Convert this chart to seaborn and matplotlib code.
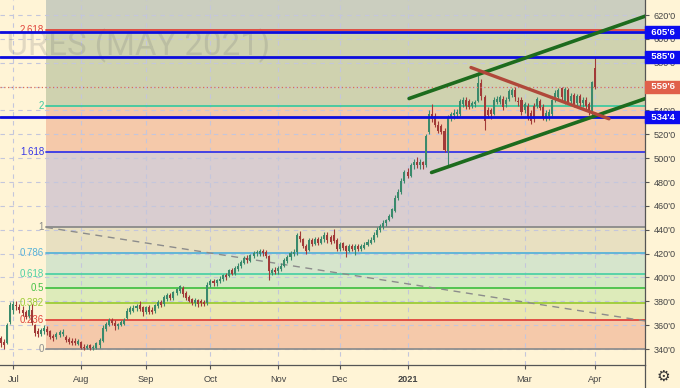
import numpy as np
import pandas as pd
import matplotlib
matplotlib.use("Agg")
import matplotlib.pyplot as plt
from matplotlib.lines import Line2D
from matplotlib.ticker import FuncFormatter
import seaborn as sns

# daily OHLC, corn futures May 2021 (cents)
opens = [349, 346, 345, 363, 373, 377, 375, 373, 371, 368,
         373, 360, 355.5, 353, 355, 357, 355, 351, 350, 352,
         352.5, 350, 348, 347, 347, 344.5, 346, 342, 341, 343,
         341, 341, 343, 347, 357, 360, 364.5, 362, 359, 360,
         361, 366, 371, 372, 374, 377, 375, 371, 375, 373,
         372, 376, 379, 378, 382, 385, 383, 387, 389, 391.5,
         387, 383.5, 382, 378.5, 381, 380, 379, 378.5, 394, 397,
         395, 397, 398.5, 402, 401, 406, 403, 407, 410, 412.5,
         416, 414, 418, 420.5, 420, 422, 421, 418, 404, 406,
         405, 407, 410, 414, 417, 420, 421, 435, 432, 426,
         423, 431, 428, 432, 429, 432, 436, 434, 436, 431,
         424, 428.5, 426, 422, 426, 423, 426.5, 423.5, 425, 427,
         429, 431, 435.5, 440, 442, 445.5, 448, 451, 456, 466.5,
         472, 480.5, 488, 485, 494, 497, 494, 497, 494, 522,
         537, 535, 528, 527, 523, 506, 534, 536, 537, 537,
         545, 549, 548, 544, 545, 548, 563, 551, 540, 540,
         537, 547, 547, 550, 545, 550, 553, 557, 548, 549,
         540, 544, 538, 544, 544, 548, 543, 533.5, 535, 537,
         549.5, 551, 558.5, 547, 557, 548, 553, 546, 552, 546,
         549, 545, 538, 576]
highs = [351, 348, 362, 379, 380, 380, 378, 376, 373, 377,
         378, 361, 358, 358, 360, 359, 356, 353, 354, 356,
         357, 352, 350, 349, 349, 348, 347, 344, 344, 344,
         343, 346, 349, 360, 363, 366, 366, 364, 362, 364,
         366, 374, 376, 377, 378, 380, 376, 376, 377, 375,
         378, 381, 381, 385, 387, 387, 389, 391, 394, 393,
         389, 385, 383, 383, 382, 382, 381, 396, 399, 399,
         399, 401, 403, 404, 407, 408, 410, 412, 415, 418,
         419, 420, 422, 423, 424, 424, 423, 419, 408, 409,
         410, 412, 416, 419, 422, 424, 437, 439, 433, 428,
         433, 433, 434, 434, 435, 438, 438, 436, 441, 433,
         430, 430, 427, 428, 428, 428, 428, 428, 430, 432,
         434, 438, 442, 445, 448, 449, 453, 458, 469, 474,
         483, 490, 492, 496, 499, 501, 499, 498, 520, 540,
         545, 538, 531, 529, 525, 536, 539, 541, 541, 550,
         551, 551, 550, 548, 549, 572, 566, 553, 543, 542,
         551, 552, 553, 552, 551, 558, 559, 560, 551, 551,
         547, 546, 540, 546, 551, 550, 545, 540, 541, 550,
         557, 559, 560, 560, 559, 555, 555, 554, 554, 551,
         551, 547, 564.5, 585]
lows = [342, 340, 344, 361, 369, 373, 370, 368, 365, 366,
        360, 351, 350, 351, 353, 352, 348, 347, 348, 350,
        351, 346, 344, 343, 343, 343, 340, 339, 340, 339,
        339, 340, 341, 346, 355, 359, 360, 356, 357, 359,
        360, 365, 369, 371, 372, 372, 368, 369, 369, 369,
        370, 374, 375, 376, 380, 381, 381, 385, 387, 384,
        381, 379, 377, 376, 375, 376, 376, 377, 392, 393,
        393, 395, 397, 398, 400, 402, 402, 405, 408, 411,
        412, 413, 416, 418, 418, 418, 416, 398, 402, 403,
        403, 405, 409, 412, 415, 418, 419, 430, 425, 420,
        422, 426, 427, 427, 428, 430, 429, 428, 429, 422,
        422, 423, 417, 421, 422, 419, 422, 422, 424, 426,
        428, 430, 434, 438, 441, 443, 447, 450, 455, 465,
        470, 479, 483, 484, 491, 492, 491, 491, 493, 520,
        530, 526, 521, 520, 505, 494, 531, 533, 534, 535,
        543, 541, 541, 542, 543, 547, 549, 524, 534, 533,
        536, 545, 545, 540, 543, 548, 551, 548, 544, 536,
        538, 532, 529, 530, 542, 540, 532, 531, 532, 535,
        547, 549, 549, 545, 545, 546, 543, 544, 544, 543,
        541, 536, 536, 558]
closes = [345, 343, 360, 377, 378, 376, 372.5, 370, 367, 373,
          362, 353.5, 353, 356, 357.5, 354.5, 350, 349, 353, 354,
          354.5, 347.5, 345.5, 345, 345, 346.5, 341, 341, 342.5, 340.5,
          341.5, 345, 347.5, 358, 361, 364, 362, 359, 361, 362.5,
          364, 372, 374, 374.5, 376, 373.5, 371, 375, 371, 371,
          377, 379, 377, 383.5, 385.5, 382.5, 388, 390, 392.5, 386,
          383, 380.5, 378.5, 381, 378, 378.5, 378, 394, 397, 395,
          397.5, 399, 402, 400, 406, 403, 408, 410, 413, 416,
          414.5, 418.5, 420.5, 421, 422, 420.5, 418, 405, 406, 404.5,
          408, 410, 414.5, 417, 420.5, 421, 435.5, 432, 426, 422,
          431, 428, 432, 429, 432.5, 436, 431, 430, 430.5, 424,
          428, 425, 422, 426, 423.5, 426.5, 423.5, 426, 427.5, 429.5,
          431.5, 436, 440, 443, 446, 448, 451.5, 457, 467, 472,
          481, 488, 485, 494, 496.5, 494.5, 497, 494, 519, 537,
          533, 528, 523, 522, 507, 534, 537, 538, 538.5, 548,
          549, 543.5, 543, 546, 547, 563, 552, 531, 536, 537,
          549, 549.5, 551, 542.5, 549, 556.5, 557, 551, 547, 538.5,
          545.5, 534.5, 531, 533, 549.5, 542, 534, 538, 538.5, 548.5,
          555, 557, 551.5, 558, 547.5, 552.5, 545, 552, 546, 549,
          544, 538.5, 564, 559.75]

holidays = ["2020-07-03", "2020-09-07", "2020-11-26", "2020-12-25",
            "2021-01-01", "2021-01-18", "2021-02-15"]
dates = pd.bdate_range("2020-06-25", "2021-04-01")
dates = dates[~dates.isin(pd.to_datetime(holidays))]

tick_months = ["2020-07", "2020-08", "2020-09", "2020-10", "2020-11",
               "2020-12", "2021-01", "2021-03", "2021-04"]
tick_labels = ["Jul", "Aug", "Sep", "Oct", "Nov", "Dec", "2021", "Mar", "Apr"]

# fibonacci extension: 0 at 340, 1 at 442
fib_low, fib_high = 340.0, 442.0
fib_start = 14.6
fib_levels = [0, 0.236, 0.382, 0.5, 0.618, 0.786, 1, 1.618, 2, 2.618, 3.618]
fib_names = ["0", "0.236", "0.382", "0.5", "0.618", "0.786", "1", "1.618", "2", "2.618"]
fib_line_colors = ["#8f8f8f", "#e0453c", "#9ccc36", "#47c247", "#4fd1a6",
                   "#58b2d8", "#8a8a8a", "#3636e6", "#3fc9a0", "#e0453c"]
fib_fill_colors = ["#f5c9aa", "#ebe8b2", "#ddebba", "#d4e9c4", "#d6e5cc",
                   "#e8e0c1", "#d9cdd0", "#f5c9aa", "#cfd2af", "#cbcebf"]
fib_trend_x = [14.6, 209.5]
fib_trend_y = [442.0, 363.4]

# drawn lines
hlines = [605.75, 585.0, 534.5]
hline_labels = ["605'6", "585'0", "534'4"]
last_price = 559.75
last_label = "559'6"
upper_x, upper_y = [132.5, 215.0], [550.0, 624.3]
lower_x, lower_y = [139.8, 215.0], [488.0, 555.1]
red_x, red_y = [152.6, 197.4], [576.0, 533.0]

bg = "#fff4d6"
sns.set_theme(style="white", rc={"axes.facecolor": bg, "figure.facecolor": bg})
plt.rcParams["font.family"] = ["Liberation Sans", "DejaVu Sans"]

fig = plt.figure(figsize=(6.8, 3.88), dpi=100)
ax = fig.add_axes([0, 23 / 388, 645 / 680, 365 / 388])
ax.set_xlim(-0.325, 209.1)
ax.set_ylim(326.6, 632.6)

# fib zones
xs = [fib_start, 215]
prices = [fib_low + l * (fib_high - fib_low) for l in fib_levels]
for k in range(len(fib_levels) - 1):
    ax.fill_between(xs, prices[k], prices[k + 1], color=fib_fill_colors[k],
                    lw=0, zorder=0.2)
for k in range(len(fib_names)):
    ax.plot(xs, [prices[k]] * 2, color=fib_line_colors[k], lw=1.3, zorder=1)
    ax.text(fib_start - 0.6, prices[k], fib_names[k], ha="right", va="center",
            color=fib_line_colors[k], fontsize=7, zorder=1)
ax.plot(fib_trend_x, fib_trend_y, color="#8c8c8c", lw=1, ls=(0, (5, 4)), zorder=1.2)

ax.text(270 / 645, (365 - 55) / 365, "CORN FUTURES (MAY 2021)", transform=ax.transAxes,
        ha="right", va="baseline", fontsize=23.8, family="Roboto",
        color="#787878", alpha=0.22, zorder=0.6)

# candles
x = np.arange(len(closes))
o, h, l, c = map(np.array, (opens, highs, lows, closes))
up = c >= o
body = np.maximum(np.abs(c - o), 0.7)
for mask, col in [(up, "#3a8a6c"), (~up, "#a23a38")]:
    ax.vlines(x[mask], l[mask], h[mask], color=col, lw=0.8, zorder=3)
    ax.bar(x[mask], body[mask], bottom=np.minimum(o, c)[mask], width=0.66,
           color=col, lw=0, zorder=3.5)

# horizontal levels and price line
for p in hlines:
    ax.axhline(p, color="#0c0cde", lw=2, zorder=4.5)
ax.axhline(last_price, color="#d8705a", lw=0.9, ls=(0, (1, 2)), zorder=4.4)

# channel and trend lines
sns.lineplot(x=upper_x, y=upper_y, ax=ax, color="#1d6b1d", lw=2.6, zorder=5)
sns.lineplot(x=lower_x, y=lower_y, ax=ax, color="#1d6b1d", lw=2.6, zorder=5)
sns.lineplot(x=red_x, y=red_y, ax=ax, color="#b0483a", lw=2.4, zorder=5)

# axes styling
month_str = np.array(dates.strftime("%Y-%m"))
tick_pos = [int(np.argmax(month_str == m)) for m in tick_months]
ax.set_xticks(tick_pos)
ax.set_xticklabels(tick_labels)
for t in ax.get_xticklabels():
    if t.get_text() == "2021":
        t.set_fontweight("bold")
ax.set_yticks(np.arange(340, 621, 20))
ax.yaxis.tick_right()
ax.yaxis.set_major_formatter(FuncFormatter(lambda v, _: f"{int(v)}'0"))
ax.tick_params(axis="both", colors="#555555", labelcolor="#444444", labelsize=6.6,
               length=3, width=0.8, direction="out", pad=3)
ax.tick_params(axis="x", bottom=True, pad=4)
ax.tick_params(axis="y", right=True, pad=3)
for side in ["top", "left"]:
    ax.spines[side].set_visible(False)
for side in ["right", "bottom"]:
    ax.spines[side].set_color("#555555")
    ax.spines[side].set_linewidth(0.9)
ax.set_axisbelow(True)
ax.grid(True, color="#c4c6dc", lw=0.8, ls=(0, (4, 4)))

# price tags on the scale
tags = list(zip(hlines, hline_labels, ["#0c0cf0"] * 3)) + [(last_price, last_label, "#e0604a")]
for p, txt, col in tags:
    ax.annotate(f"  {txt}  ", xy=(1, p), xycoords=("axes fraction", "data"),
                xytext=(0.8, 0), textcoords="offset points", ha="left", va="center",
                fontsize=6.8, color="white", fontweight="bold",
                bbox=dict(boxstyle="square,pad=0.15", fc=col, ec=col),
                annotation_clip=False, zorder=10)

fig.add_artist(Line2D([645 / 680, 645 / 680], [0, 23 / 388], color="#555555", lw=0.9))
fig.text(663 / 680, 1 - 376 / 388, "\u2699", fontsize=11, family="DejaVu Sans",
         ha="center", va="center", color="#333333")

fig.savefig("out.png", dpi=100, facecolor=bg)
